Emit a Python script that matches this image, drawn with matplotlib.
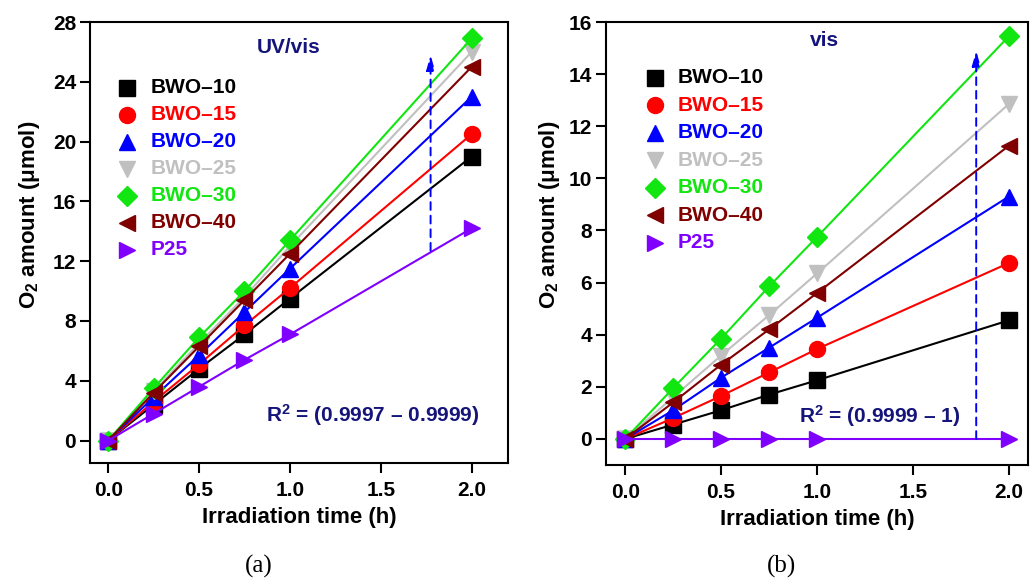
import matplotlib
matplotlib.use('Agg')
import matplotlib.pyplot as plt
import numpy as np

# irradiation times (h)
t = [0, 0.25, 0.5, 0.75, 1.0, 2.0]

labels = ['BWO\u201310', 'BWO\u201315', 'BWO\u201320', 'BWO\u201325', 'BWO\u201330', 'BWO\u201340', 'P25']
colors = ['#000000', '#ff0000', '#0000ff', '#c0c0c0', '#11e611', '#800000', '#8000ff']
markers = ['s', 'o', '^', 'v', 'D', '<', '>']
msizes = [11, 11.5, 11.5, 11.5, 10, 11.5, 11.5]

# O2 amount (umol) under UV/vis
uv_10 = [0, 2.4, 4.8, 7.1, 9.5, 19.0]
uv_15 = [0, 2.6, 5.1, 7.7, 10.2, 20.5]
uv_20 = [0, 2.9, 5.7, 8.6, 11.5, 23.0]
uv_25 = [0, 3.3, 6.5, 9.6, 13.0, 26.0]
uv_30 = [0, 3.5, 6.9, 10.0, 13.4, 26.9]
uv_40 = [0, 3.2, 6.3, 9.4, 12.5, 25.0]
uv_p25 = [0, 1.8, 3.6, 5.4, 7.1, 14.2]

# O2 amount (umol) under visible light
vis_10 = [0, 0.55, 1.1, 1.7, 2.25, 4.55]
vis_15 = [0, 0.8, 1.65, 2.55, 3.45, 6.75]
vis_20 = [0, 1.1, 2.35, 3.5, 4.65, 9.3]
vis_25 = [0, 1.6, 3.2, 4.75, 6.35, 12.85]
vis_30 = [0, 1.95, 3.85, 5.85, 7.75, 15.45]
vis_40 = [0, 1.4, 2.85, 4.2, 5.6, 11.25]
vis_p25 = [0, 0, 0, 0, 0, 0]

uv = [uv_10, uv_15, uv_20, uv_25, uv_30, uv_40, uv_p25]
vis = [vis_10, vis_15, vis_20, vis_25, vis_30, vis_40, vis_p25]

navy = '#14147a'
plt.rcParams['font.family'] = ['Liberation Sans', 'DejaVu Sans']
plt.rcParams['font.weight'] = 'bold'
plt.rcParams['mathtext.fontset'] = 'custom'
plt.rcParams['mathtext.rm'] = 'Liberation Sans:bold'
plt.rcParams['mathtext.bf'] = 'Liberation Sans:bold'
plt.rcParams['mathtext.default'] = 'bf'

fig = plt.figure(figsize=(10.36, 5.84), dpi=100)
# axes boxes in pixels: left, bottom, right, top
W, H = 1036, 584
def box(l, b, r, tp):
    return [l / W, 1 - b / H, (r - l) / W, (b - tp) / H]

axA = fig.add_axes(box(90, 463, 508, 22))
axB = fig.add_axes(box(606, 465, 1028, 22))


def draw(ax, data, ylim, yticks, xlim, leg, title, title_xy, r2, r2_xy, arrow, ylab_xy):
    for y, c, m, ms in zip(data, colors, markers, msizes):
        ax.plot(t, y, color=c, marker=m, markersize=ms, lw=1.5,
                markeredgecolor=c, clip_on=False, zorder=3)
    ax.set_xlim(*xlim)
    ax.set_ylim(*ylim)
    ax.set_yticks(yticks)
    ax.set_xticks([0, 0.5, 1.0, 1.5, 2.0])
    ax.set_xticklabels(['0.0', '0.5', '1.0', '1.5', '2.0'])
    for s in ax.spines.values():
        s.set_linewidth(1.5)
    ax.tick_params(direction='out', length=7, width=1.5, labelsize=15)
    ax.tick_params(axis='x', pad=6)
    ax.tick_params(axis='y', pad=3)
    ax.set_xlabel('Irradiation time (h)', fontsize=16, fontweight='bold', labelpad=5)
    ax.set_ylabel('O$_2$ amount (\u03bcmol)', fontsize=16, fontweight='bold')
    ax.yaxis.set_label_coords(*ylab_xy)

    # legend: marker column and coloured labels
    mx, tx, y0, dy = leg
    for i, (c, m, ms, lab) in enumerate(zip(colors, markers, msizes, labels)):
        yy = y0 - i * dy
        ax.plot([mx], [yy], marker=m, markersize=ms, color=c, ls='none',
                transform=ax.transAxes, clip_on=False)
        ax.text(tx, yy, lab, color=c, fontsize=15, fontweight='bold',
                va='center', ha='left', transform=ax.transAxes)

    ax.text(*title_xy, title, transform=ax.transAxes, color=navy, fontsize=15,
            fontweight='bold', ha='center', va='center')
    ax.text(*r2_xy, r2, transform=ax.transAxes, color=navy, fontsize=15,
            fontweight='bold', ha='center', va='center')
    x0, ya, yb = arrow
    ax.annotate('', xy=(x0, yb), xytext=(x0, ya),
                arrowprops=dict(arrowstyle='-|>,head_length=0.9,head_width=0.25',
                                color='#0000ff', lw=1.4,
                                linestyle=(0, (4, 3)), mutation_scale=10,
                                shrinkA=0, shrinkB=0))


draw(axA, uv, (-1.5, 28), np.arange(0, 29, 4), (-0.1, 2.2),
     (0.0885, 0.1455, 0.851, 0.0612),
     'UV/vis', (0.474, 0.943), 'R$^2$ = (0.9997 \u2013 0.9999)', (0.677, 0.109),
     (1.774, 12.7, 25.8), (-0.115, 0.562))
draw(axB, vis, (-1, 16), np.arange(0, 17, 2), (-0.1, 2.1),
     (0.116, 0.17, 0.874, 0.0621),
     'vis', (0.517, 0.959), 'R$^2$ = (0.9999 \u2013 1)', (0.649, 0.111),
     (1.83, 0, 14.9), (-0.104, 0.564))

fig.text(259 / W, 1 - 566 / H, '(a)', family='Liberation Serif', fontweight='normal',
         fontsize=18, ha='center', va='center')
fig.text(782 / W, 1 - 566 / H, '(b)', family='Liberation Serif', fontweight='normal',
         fontsize=18, ha='center', va='center')

fig.savefig('out.png', dpi=100)
